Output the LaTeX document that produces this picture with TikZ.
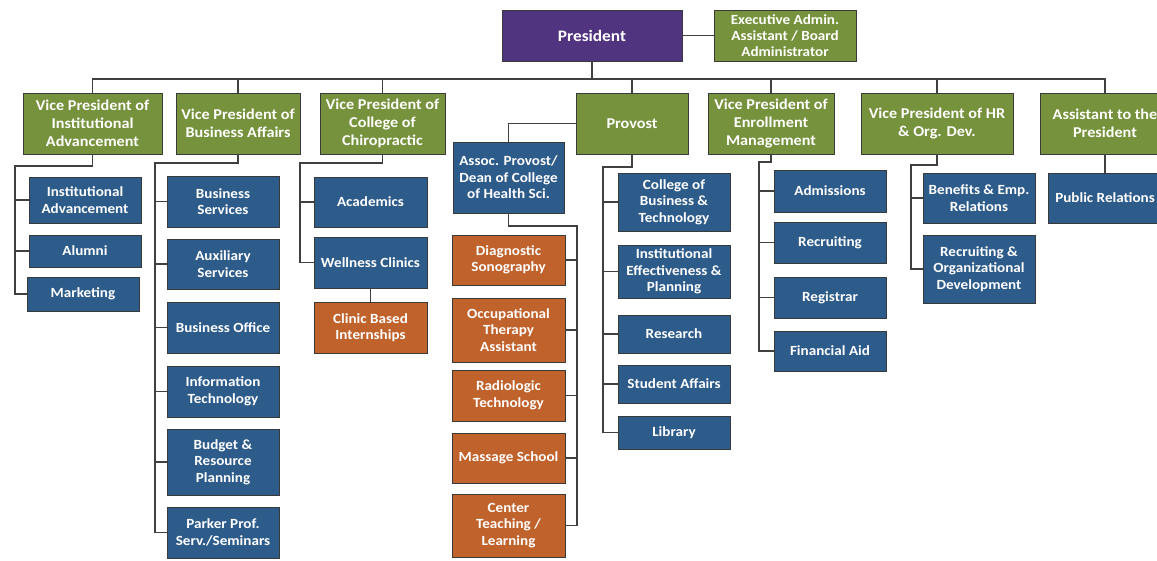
\documentclass[tikz,border=0pt]{standalone}
\usepackage{fontspec}
\newfontfamily\boxfont{Carlito}[FakeStretch=1.08]
\definecolor{presp}{HTML}{51347F}
\definecolor{vpg}{HTML}{76923C}
\definecolor{leafb}{HTML}{2E5C8A}
\definecolor{leafo}{HTML}{C0622B}
\definecolor{boxedge}{HTML}{3A3A3A}
\definecolor{wire}{HTML}{404040}
\begin{document}
\begin{tikzpicture}[x=1pt,y=-1pt,
  sz/.style 2 args={minimum width=#1pt,minimum height=#2pt},
  basebox/.style={draw=boxedge,line width=0.7pt,text=white,align=center,inner sep=1pt,
    font=\boxfont\bfseries\fontsize{14}{16.5}\selectfont},
  presbox/.style={basebox,fill=presp,font=\boxfont\bfseries\fontsize{16}{18}\selectfont},
  vpbox/.style={basebox,fill=vpg,font=\boxfont\bfseries\fontsize{15}{18}\selectfont},
  execbox/.style={basebox,fill=vpg,font=\boxfont\bfseries\fontsize{14}{16}\selectfont},
  leafblue/.style={basebox,fill=leafb},
  leaforange/.style={basebox,fill=leafo},
  conn/.style={draw=wire,line width=1.3pt}]
\useasboundingbox (0,0) rectangle (1157,561);

% top level
\node[presbox,sz={180}{51}] (pres) at (592,35.5) {President};
\node[execbox,sz={142}{51}] (exec) at (785,35.5) {Executive Admin.\\Assistant / Board\\Administrator};

\node[vpbox,sz={139}{61}] (vp1) at (92.5,123.5) {Vice President of\\Institutional\\Advancement};
\node[vpbox,sz={124}{61}] (vp2) at (238,123.5) {Vice President of\\Business Affairs};
\node[vpbox,sz={125}{61}] (vp3) at (382.5,123.5) {Vice President of\\College of\\Chiropractic};
\node[vpbox,sz={112}{61}] (prov) at (632,123.5) {Provost};
\node[vpbox,sz={126}{61}] (vp5) at (771,123.5) {Vice President of\\Enrollment\\Management};
\node[vpbox,sz={152}{61}] (vp6) at (937,123.5) {Vice President of HR\\\& Org. Dev.};
\node[vpbox,sz={130}{61}] (asst) at (1105,123.5) {Assistant to the\\President};

% institutional advancement
\node[leafblue,sz={112}{46}] (ia) at (85,200) {Institutional\\Advancement};
\node[leafblue,sz={112}{32}] (alum) at (85,251) {Alumni};
\node[leafblue,sz={112}{34}] (mkt) at (83,294) {Marketing};

% business affairs
\node[leafblue,sz={112}{51}] (bs) at (223,201.5) {Business\\Services};
\node[leafblue,sz={112}{50}] (aux) at (223,264) {Auxiliary\\Services};
\node[leafblue,sz={112}{51}] (bo) at (223,327.5) {Business Office};
\node[leafblue,sz={112}{51}] (it) at (223,391.5) {Information\\Technology};
\node[leafblue,sz={112}{66}] (brp) at (223,462) {Budget \&\\Resource\\Planning};
\node[leafblue,sz={112}{51}] (ppf) at (223,532.5) {Parker Prof.\\Serv./Seminars};

% chiropractic
\node[leafblue,sz={113}{50}] (acad) at (370.5,202) {Academics};
\node[leafblue,sz={113}{51}] (well) at (370.5,262.5) {Wellness Clinics};
\node[leaforange,sz={113}{51}] (cbi) at (370.5,327.5) {Clinic Based\\Internships};

% health sciences
\node[leafblue,sz={111}{71}] (assoc) at (508.5,177.5) {Assoc. Provost/\\Dean of College\\of Health Sci.};
\node[leaforange,sz={113}{50}] (diag) at (508.5,260) {Diagnostic\\Sonography};
\node[leaforange,sz={113}{64}] (ota) at (508.5,330) {Occupational\\Therapy\\Assistant};
\node[leaforange,sz={113}{51}] (rad) at (508.5,395.5) {Radiologic\\Technology};
\node[leaforange,sz={113}{50}] (mas) at (508.5,458) {Massage School};
\node[leaforange,sz={113}{63}] (ctl) at (508.5,525.5) {Center\\Teaching /\\Learning};

% provost
\node[leafblue,sz={112}{58}] (cobt) at (674,202) {College of\\Business \&\\Technology};
\node[leafblue,sz={112}{53}] (iep) at (674,271.5) {Institutional\\Effectiveness \&\\Planning};
\node[leafblue,sz={112}{38}] (res) at (674,334) {Research};
\node[leafblue,sz={112}{38}] (sa) at (674,384) {Student Affairs};
\node[leafblue,sz={112}{33}] (lib) at (674,432.5) {Library};

% enrollment
\node[leafblue,sz={112}{42}] (adm) at (830,191) {Admissions};
\node[leafblue,sz={112}{41}] (rec) at (830,242.5) {Recruiting};
\node[leafblue,sz={112}{41}] (reg) at (830,297.5) {Registrar};
\node[leafblue,sz={112}{40}] (fa) at (830,351) {Financial Aid};

% HR
\node[leafblue,sz={112}{50}] (ben) at (979,198) {Benefits \& Emp.\\Relations};
\node[leafblue,sz={112}{68}] (rod) at (979,269) {Recruiting \&\\Organizational\\Development};

% assistant
\node[leafblue,sz={114}{50}] (pr) at (1105,198) {Public Relations};

% connectors: top
\coordinate (bus) at (592,79);
\draw[conn] (pres.east) -- (exec.west);
\draw[conn] (pres.south) -- (pres.south |- bus);
\draw[conn] (vp1.north) |- (asst.north |- bus) -- (asst.north);
\foreach \n in {vp2,vp3,prov,vp5,vp6} \draw[conn] (\n.north) -- (\n.north |- bus);

% institutional advancement
\coordinate (s1) at (15,166);
\draw[conn] (vp1.south) |- (s1) |- (mkt.west);
\foreach \n in {ia,alum} \draw[conn] (\n.west) -- (\n.west -| s1);

% business affairs
\coordinate (s2) at (155,163);
\draw[conn] (vp2.south) |- (s2) |- (ppf.west);
\foreach \n in {bs,aux,bo,it,brp} \draw[conn] (\n.west) -- (\n.west -| s2);

% chiropractic
\coordinate (s3) at (300,163);
\draw[conn] (vp3.south) |- (s3) |- (well.west);
\draw[conn] (acad.west) -- (acad.west -| s3);
\draw[conn] (well.south) -- (cbi.north);

% provost
\draw[conn] (prov.west) -| (assoc.north);
\coordinate (s4) at (603,167);
\draw[conn] (prov.south) |- (s4) |- (lib.west);
\foreach \n in {cobt,iep,res,sa} \draw[conn] (\n.west) -- (\n.west -| s4);

% health sciences
\coordinate (s5) at (577,226);
\draw[conn] (assoc.south) |- (s5) |- (ctl.east);
\foreach \n in {diag,ota,rad,mas} \draw[conn] (\n.east) -- (\n.east -| s5);

% enrollment
\coordinate (s6) at (759,162);
\draw[conn] (vp5.south) |- (s6) |- (fa.west);
\foreach \n in {adm,rec,reg} \draw[conn] (\n.west) -- (\n.west -| s6);

% HR
\coordinate (s7) at (911,165);
\draw[conn] (vp6.south) |- (s7) |- (rod.west);
\draw[conn] (ben.west) -- (ben.west -| s7);

% assistant
\draw[conn] (asst.south) -- (pr.north);
\end{tikzpicture}
\end{document}
